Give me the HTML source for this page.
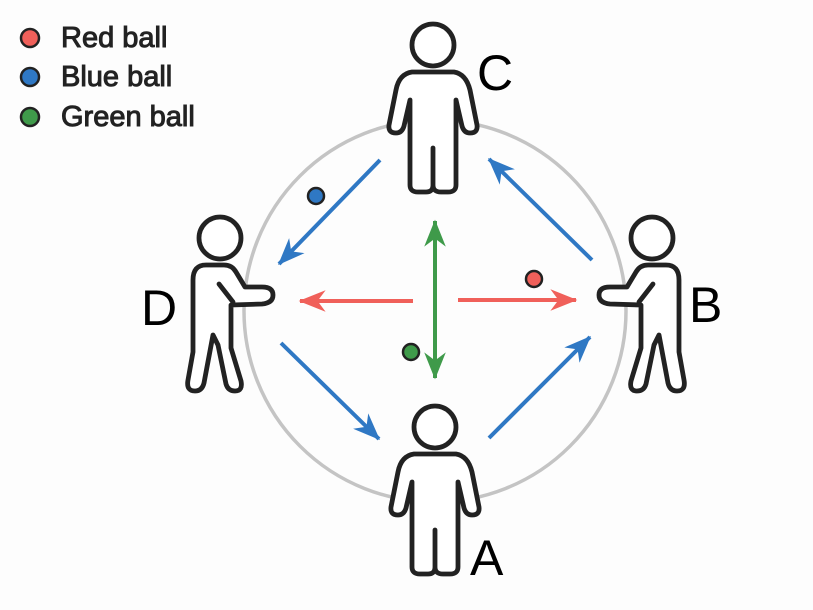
<!DOCTYPE html>
<html><head><meta charset="utf-8"><style>
html,body{margin:0;padding:0;background:#fdfdfd;}
svg{display:block;}
text{font-family:"Liberation Sans",sans-serif;}
</style></head><body>
<svg width="813" height="610" viewBox="0 0 813 610" xmlns="http://www.w3.org/2000/svg">
<defs>
<marker id="mb" viewBox="0 0 10 8" refX="9.5" refY="4" markerWidth="27" markerHeight="21.6" orient="auto" markerUnits="userSpaceOnUse">
<path d="M0,0 L10,4 L0,8 L3,4 Z" fill="#2f78c4"/>
</marker>
<marker id="mr" viewBox="0 0 10 8" refX="9.5" refY="4" markerWidth="27" markerHeight="21.6" orient="auto" markerUnits="userSpaceOnUse">
<path d="M0,0 L10,4 L0,8 L3,4 Z" fill="#f0605a"/>
</marker>
<marker id="mg" viewBox="0 0 10 8" refX="9.5" refY="4" markerWidth="27" markerHeight="21.6" orient="auto-start-reverse" markerUnits="userSpaceOnUse">
<path d="M0,0 L10,4 L0,8 L3,4 Z" fill="#3f9a4a"/>
</marker>
<g id="stand">
<path d="M412 72 Q399 74 396 90 L389 125 Q388 133 396 133 Q402 133 404 126 L410 100 L410 185 Q410 192 418 192 L426 192 Q433 192 433 185 L433 148 L433 185 Q433 192 441 192 L448 192 Q456 192 456 185 L456 100 L462 126 Q464 133 470 133 Q478 133 477 125 L470 90 Q466 74 454 72 Z" fill="#fff" stroke="#222" stroke-width="4.8" stroke-linejoin="round"/>
<circle cx="433" cy="45" r="21" fill="#fff" stroke="#222" stroke-width="4.8"/>
</g>
<g id="walk">
<path d="M206 265 Q193 265 193 280 L193 352 L188 380 Q186 391 195 391 Q202 391 204 383 L213 335 L218 345 L226 384 Q228 391 235 391 Q243 391 241 381 L231 348 L231 305 L262 304 Q273 303 273 295 Q273 287 262 287 L245 287 L236 272 Q232 265 224 265 Z" fill="#fff" stroke="#222" stroke-width="4.8" stroke-linejoin="round"/>
<path d="M219 284 L233 302" stroke="#222" stroke-width="4.8" stroke-linecap="round"/>
<circle cx="220" cy="238" r="21" fill="#fff" stroke="#222" stroke-width="4.8"/>
</g>
</defs>
<circle cx="435" cy="311" r="191" fill="none" stroke="#c4c4c4" stroke-width="3.5"/>
<use href="#stand"/>
<use href="#stand" transform="translate(2,382)"/>
<use href="#walk"/>
<use href="#walk" transform="translate(872,0) scale(-1,1)"/>
<g stroke-width="4" fill="none">
<line x1="380" y1="160" x2="279" y2="264" stroke="#2f78c4" marker-end="url(#mb)"/>
<line x1="592" y1="260" x2="489" y2="159" stroke="#2f78c4" marker-end="url(#mb)"/>
<line x1="281" y1="343" x2="379" y2="439" stroke="#2f78c4" marker-end="url(#mb)"/>
<line x1="489" y1="438" x2="590" y2="337" stroke="#2f78c4" marker-end="url(#mb)"/>
<line x1="413" y1="301" x2="300" y2="301" stroke="#f0605a" marker-end="url(#mr)"/>
<line x1="458" y1="300" x2="576" y2="300" stroke="#f0605a" marker-end="url(#mr)"/>
<line x1="435" y1="221" x2="435" y2="378" stroke="#3f9a4a" marker-start="url(#mg)" marker-end="url(#mg)"/>
</g>
<circle cx="316" cy="196" r="8" fill="#2f78c4" stroke="#222" stroke-width="2.5"/>
<circle cx="534" cy="279" r="8" fill="#f0605a" stroke="#222" stroke-width="2.5"/>
<circle cx="411" cy="352" r="8" fill="#3f9a4a" stroke="#222" stroke-width="2.5"/>
<circle cx="30" cy="38" r="9" fill="#f0605a" stroke="#222" stroke-width="2.5"/>
<circle cx="30" cy="77" r="9" fill="#2f78c4" stroke="#222" stroke-width="2.5"/>
<circle cx="30" cy="117" r="9" fill="#3f9a4a" stroke="#222" stroke-width="2.5"/>
<g font-size="29" fill="#222" stroke="#222" stroke-width="1">
<text x="61" y="47">Red ball</text>
<text x="61" y="86">Blue ball</text>
<text x="61" y="126">Green ball</text>
</g>
<g font-size="50" fill="#000">
<text x="477" y="90">C</text>
<text x="141" y="325">D</text>
<text x="689" y="322">B</text>
<text x="470" y="575">A</text>
</g>
</svg>
</body></html>
